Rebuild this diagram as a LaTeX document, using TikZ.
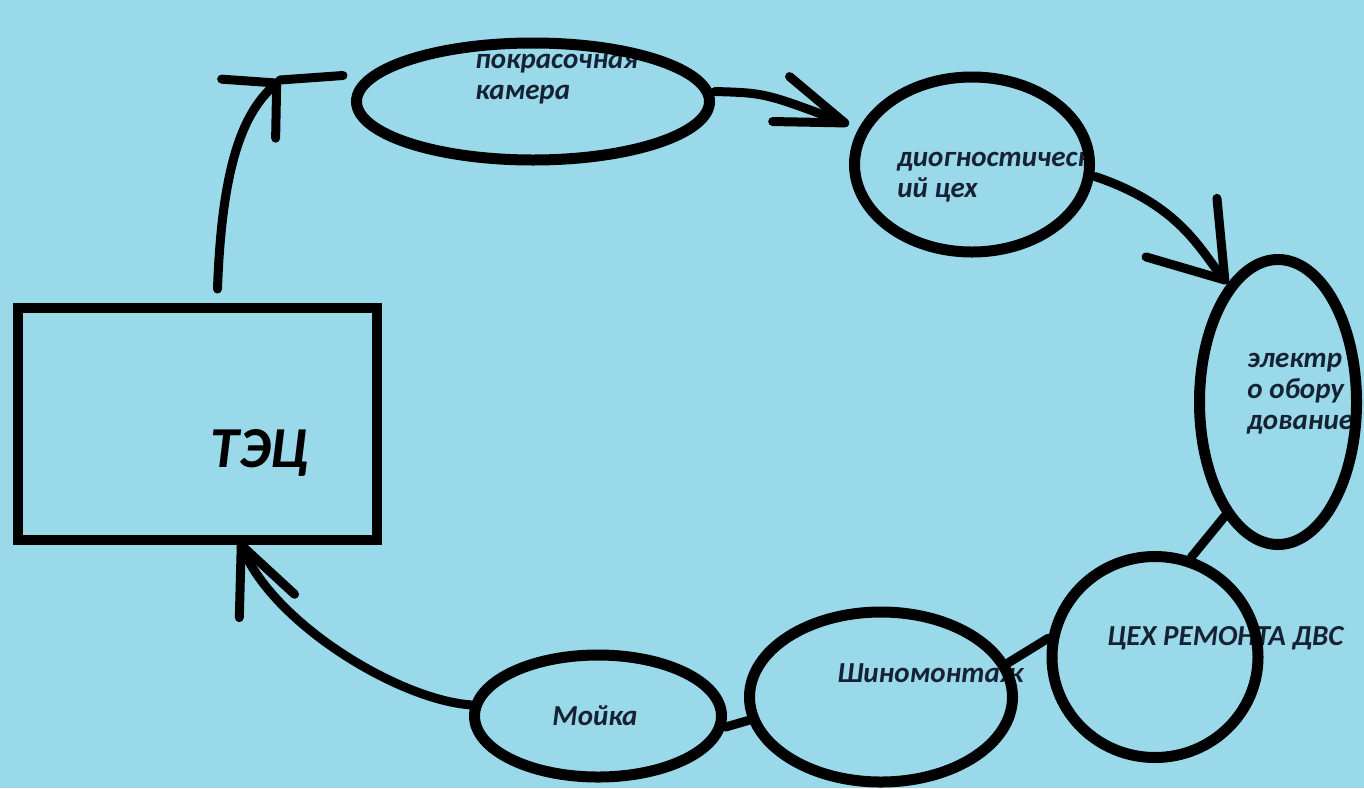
\documentclass[tikz,border=0pt]{standalone}
\usepackage{fontspec}
\setmainfont{Carlito}
\usepackage{xcolor}
\usetikzlibrary{shapes.geometric, arrows.meta, calc}
\definecolor{paintblue}{RGB}{153, 217, 234}
\definecolor{inkblue}{RGB}{22, 34, 52}
\tikzstyle{shop} = [ellipse, draw=black, line width=5.5pt, inner sep=0pt]
\tikzstyle{plant} = [rectangle, draw=black, line width=5pt, inner sep=0pt, minimum width=179.5pt, minimum height=116pt]
\tikzstyle{lbl} = [anchor=west, align=left, text=inkblue, inner sep=0pt, font=\fontsize{14.5}{15.5}\selectfont\bfseries\itshape]
\tikzstyle{link} = [line width=4.5pt, line cap=round, line join=round]
\tikzset{barb/.style 2 args={link, -{Straight Barb[round, length=#1, width=#2]}}}

\begin{document}
\begin{tikzpicture}[x=0.5pt, y=-0.5pt]
    % Canvas
    \useasboundingbox (0,0) rectangle (1364,788);
    \fill[paintblue] (0,0) rectangle (1364,788);

    % Labels (drawn first, the outlines go over them)
    \node[lbl] (paintlbl) at (475, 79) {покрасочная\\камера};
    \node[lbl] (diaglbl) at (897, 177) {диогностическ\\ий цех};
    \node[lbl] (eleclbl) at (1247, 394) {электр\\о обору\\дование};
    \node[lbl] (dvslbl) at (1107, 638) {ЦЕХ РЕМОНТА ДВС};
    \node[lbl] (tirelbl) at (837, 673) {Шиномонтаж};
    \node[lbl] (washlbl) at (552, 716) {Мойка};
    \node[lbl, text=black, font=\fontsize{29}{30}\selectfont\bfseries\itshape] (teclbl) at (210, 453) {ТЭЦ};

    % Plant and shops
    \node[plant] (tec) at (197.5, 424) {};
    \node[shop, minimum width=176.5pt, minimum height=58.5pt] (paint) at (533, 101.5) {};
    \node[shop, minimum width=117.5pt, minimum height=87.5pt] (diag) at (972, 164.5) {};
    \node[shop, minimum width=78.5pt, minimum height=142.5pt] (elec) at (1278, 402) {};
    \node[shop, minimum width=103pt, minimum height=100.5pt] (dvs) at (1155, 657) {};
    \node[shop, minimum width=131.5pt, minimum height=85pt] (tire) at (881, 697) {};
    \node[shop, minimum width=123.5pt, minimum height=61pt] (wash) at (598, 716) {};

    % Flow
    \coordinate (bend) at (280, 80);
    \draw[barb={19pt}{40pt}] ([xshift=10pt, yshift=7pt]tec.north) .. controls (222, 160) and (245, 112) .. (bend);
    \draw[link] (bend) -- ([shift={(-4pt,13pt)}]paint.west);
    \draw[barb={34pt}{24pt}] ([yshift=5pt]paint.east) .. controls (765, 93) .. ([yshift=20pt]diag.west);
    \draw[barb={34pt}{46pt}] ([yshift=-6pt]diag.east) .. controls (1180, 205) and (1200, 250) .. (elec.113);
    \draw[link] (elec.245) -- (dvs.70);
    \draw[link] (dvs.170) -- (tire.15);
    \draw[link] (tire.190) -- (wash.-5);
    \draw[barb={33pt}{30pt}] (wash.175) .. controls (400, 700) and (275, 625) .. ([xshift=21pt, yshift=2pt]tec.south);
\end{tikzpicture}
\end{document}
